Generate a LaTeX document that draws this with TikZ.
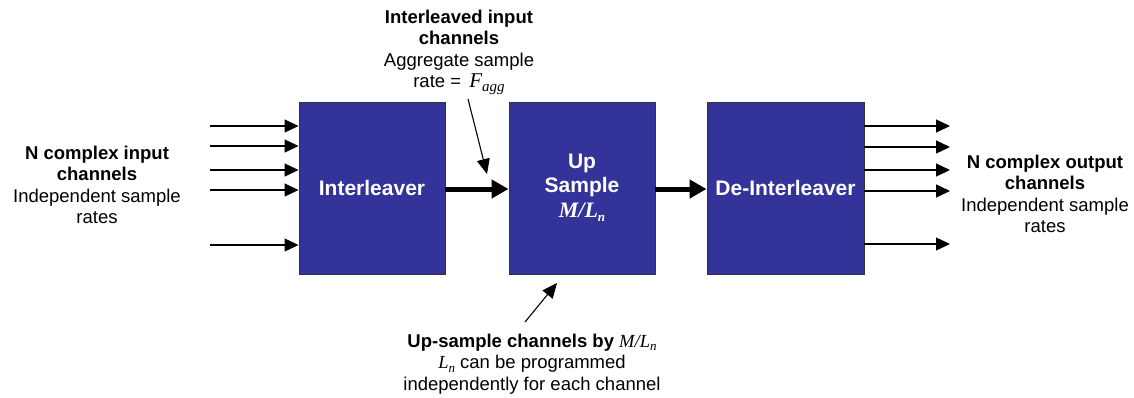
\documentclass[tikz,border=0pt]{standalone}
\usepackage{fontspec}
\setmainfont{Liberation Sans}
\newfontfamily\tms{Liberation Serif}
\usetikzlibrary{arrows.meta}
\definecolor{blockblue}{HTML}{333399}
\newcommand\tvar[1]{{\tms\itshape #1}}
\newcommand\tbig[1]{{\fontsize{21}{21}\selectfont\tms\itshape #1}}
\newcommand\tsub[1]{\raisebox{-0.35ex}{\fontsize{13}{13}\selectfont\tms\itshape #1}}
\newcommand\tsubb[1]{\raisebox{-0.35ex}{\fontsize{15}{15}\selectfont\tms\itshape #1}}
\begin{document}
\begin{tikzpicture}[x=1pt,y=-1pt,
  block/.style={draw=black!80,line width=0.9pt,fill=blockblue,text=white,
    font=\fontsize{21}{24}\selectfont\bfseries,align=center,inner sep=0pt},
  note/.style={align=center,font=\fontsize{18.5}{21.5}\selectfont,inner sep=0pt},
  thin/.style={line width=1.2pt,-{Triangle[length=14pt,width=13pt]}},
  thick/.style={line width=5pt,-{Triangle[length=17pt,width=18pt]}},
  pointer/.style={line width=1.1pt,-{Triangle[length=15pt,width=13pt]}}]
\useasboundingbox (0,0) rectangle (1134,397);

% processing blocks
\node[block,minimum width=146pt,minimum height=172pt] (il) at (372,188) {Interleaver};
\node[block,minimum width=146pt,minimum height=172pt] (us) at (582,188)
  {Up\\Sample\\[1pt]{\fontsize{22}{22}\selectfont\tms\itshape\bfseries M/L}\tsub{\bfseries n}};
\node[block,minimum width=157pt,minimum height=172pt] (dil) at (785.5,188) {De-Interleaver};

% input channels
\foreach \y [count=\i] in {126,146,170,190,245}{
  \coordinate (in\i) at (210,\y);
  \draw[thin] (in\i) -- (il.west |- in\i);
}
% output channels
\foreach \y [count=\i] in {126,147,170,191,244}{
  \coordinate (out\i) at (950,\y);
  \draw[thin] (dil.east |- out\i) -- (out\i);
}

% main data path
\draw[thick] (il.east |- 0,189) -- (us.west |- 0,189);
\draw[thick] (us.east |- 0,189) -- (dil.west |- 0,189);

% labels
\node[note] (inlbl) at (97,185) {\textbf{N complex input}\\\textbf{channels}\\Independent sample\\rates};
\node[note] (outlbl) at (1045,194) {\textbf{N complex output}\\\textbf{channels}\\Independent sample\\rates};
\node[note] (toplbl) at (459,52) {\textbf{Interleaved input}\\\textbf{channels}\\Aggregate sample\\rate = \,\tbig{F}\tsubb{agg}};
\node[note] (botlbl) at (532,364) {\textbf{Up-sample channels by} \tvar{M/L}\tsub{n}\\\tvar{L}\tsub{n} can be programmed\\independently for each channel};

% callout pointers
\coordinate (ptop) at (468,99);
\coordinate (ptopend) at (487,174);
\draw[pointer] (ptop) -- (ptopend);
\coordinate (pbot) at (525,322);
\coordinate (pbotend) at (557,283);
\draw[pointer] (pbot) -- (pbotend);
\end{tikzpicture}
\end{document}
